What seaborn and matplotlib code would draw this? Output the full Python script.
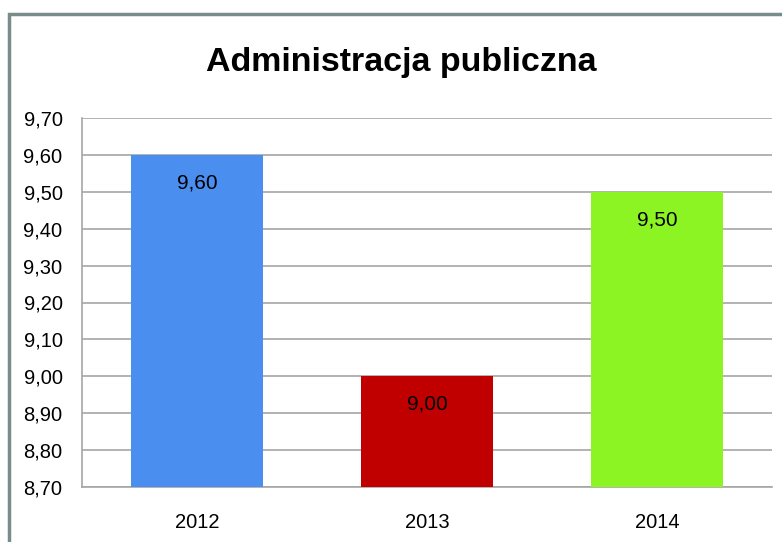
import matplotlib
matplotlib.use("Agg")
import matplotlib.pyplot as plt
import matplotlib.ticker as mticker
import matplotlib.patches as mpatches
import seaborn as sns
import pandas as pd

# ── Data ──────────────────────────────────────────────────
years  = ["2012", "2013", "2014"]
values = [9.60, 9.00, 9.50]
colors = ["#4A8FF0", "#C00000", "#8CF423"]
title  = "Administracja publiczna"

GRID_CLR = "#A6A6A6"
FRAME    = "#7A8C8A"
FONT     = ["Liberation Sans", "DejaVu Sans"]

sns.set_theme(style="white")
plt.rcParams["font.family"] = FONT

df = pd.DataFrame({"year": years, "value": values})

fig = plt.figure(figsize=(7.82, 5.42), dpi=100)
ax = fig.add_axes([82 / 782, 1 - 487 / 542, 690 / 782, 369 / 542])

sns.barplot(data=df, x="year", y="value", hue="year", palette=colors,
            width=0.57, saturation=1, legend=False, ax=ax, zorder=3,
            edgecolor="none", linewidth=0)

ax.set_ylim(8.70, 9.70)
ax.set_xlim(-0.5, 2.5)
ax.set_yticks([8.70 + 0.1 * i for i in range(11)])
ax.yaxis.set_major_formatter(mticker.FuncFormatter(lambda v, _: f"{v:.2f}".replace(".", ",")))
ax.grid(True, axis="y", color=GRID_CLR, lw=1.2, zorder=0)
ax.set_xlabel("")
ax.set_ylabel("")
ax.tick_params(axis="both", labelsize=14.5, colors="black", length=0)
ax.tick_params(axis="y", pad=14)
ax.tick_params(axis="x", pad=19)

for s in ["top", "right"]:
    ax.spines[s].set_visible(False)
for s in ["left", "bottom"]:
    ax.spines[s].set_color(GRID_CLR)
    ax.spines[s].set_linewidth(1.2)

for i, v in enumerate(values):
    ax.annotate(f"{v:.2f}".replace(".", ","), (i, v), xytext=(0, -20),
                textcoords="offset points", ha="center", va="center",
                fontsize=15, color="black", zorder=4)

fig.text(401 / 782, 1 - 63 / 542, title, ha="center", va="center",
         fontsize=24.5, fontweight="bold", color="black")

# outer chart frame (only left and top visible in the crop)
fig.add_artist(mpatches.Rectangle((9 / 782, -0.05), 1.0, 1 - 14 / 542 + 0.05,
                                  transform=fig.transFigure, fill=False,
                                  edgecolor=FRAME, lw=2.5))

fig.savefig("out.png", dpi=100, facecolor="white")
